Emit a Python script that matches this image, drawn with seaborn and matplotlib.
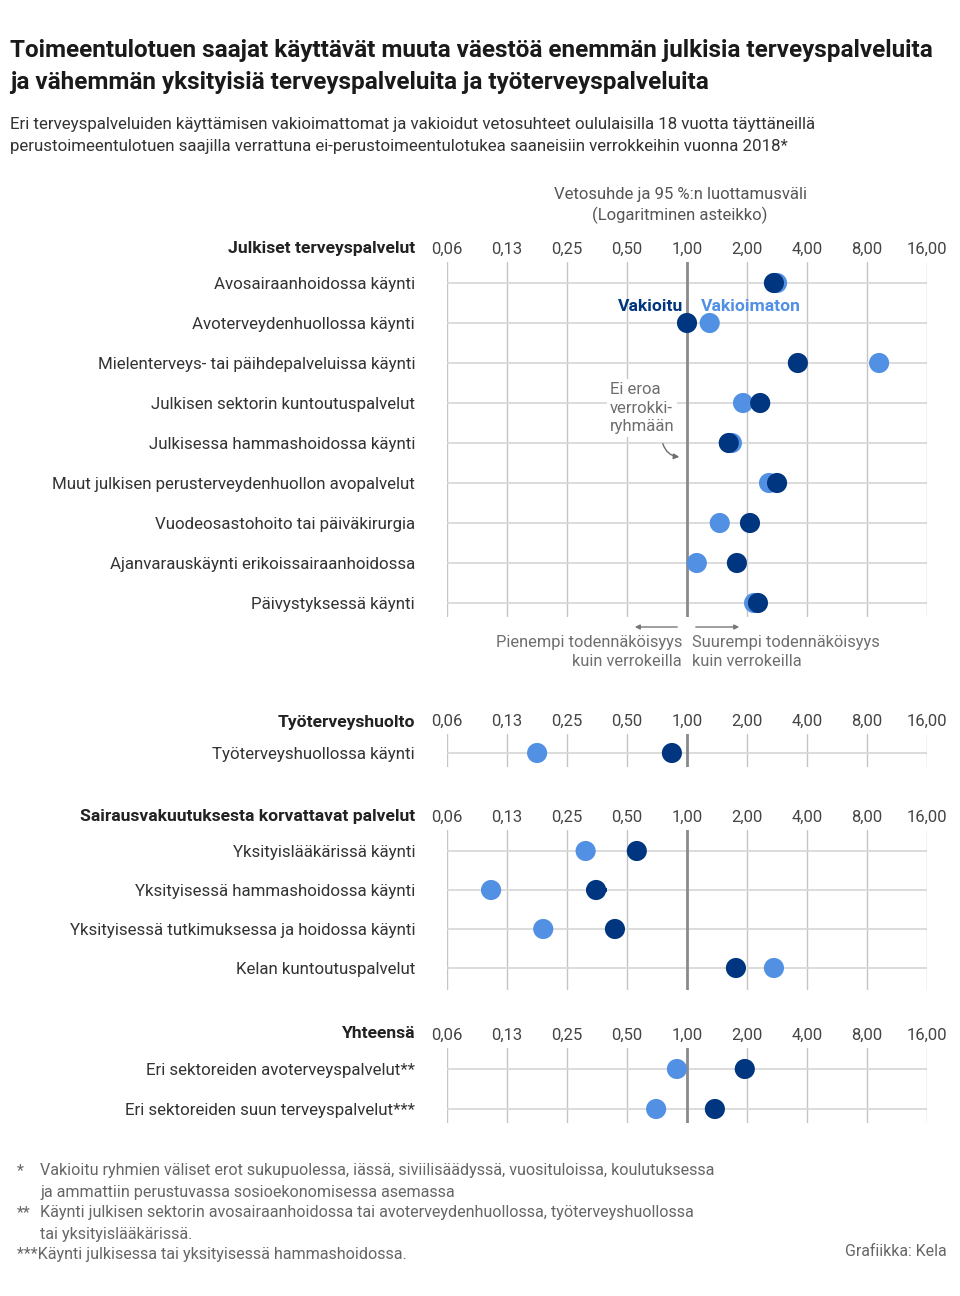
import numpy as np
import pandas as pd
import matplotlib
matplotlib.use("Agg")
import matplotlib.pyplot as plt
from matplotlib.ticker import NullLocator
import seaborn as sns

sns.set_theme(style="white")
plt.rcParams["font.family"] = ["Roboto", "DejaVu Sans"]

W, H = 960, 1296
DARK = "#00367F"
LIGHT = "#5290E3"
TXT = "#333333"
GRAY = "#6e6e6e"

# ---------------------------------------------------------------- data
tick_vals = [1/16, 1/8, 1/4, 1/2, 1, 2, 4, 8, 16]
tick_labels = ["0,06", "0,13", "0,25", "0,50", "1,00", "2,00", "4,00", "8,00", "16,00"]

pub_cats = ["Avosairaanhoidossa käynti", "Avoterveydenhuollossa käynti",
            "Mielenterveys- tai päihdepalveluissa käynti", "Julkisen sektorin kuntoutuspalvelut",
            "Julkisessa hammashoidossa käynti", "Muut julkisen perusterveydenhuollon avopalvelut",
            "Vuodeosastohoito tai päiväkirurgia", "Ajanvarauskäynti erikoissairaanhoidossa",
            "Päivystyksessä käynti"]
pub_vak = [2.73, 1.00, 3.60, 2.33, 1.62, 2.83, 2.07, 1.78, 2.27]
pub_vakm = [2.83, 1.30, 9.20, 1.91, 1.68, 2.58, 1.46, 1.12, 2.17]

tyo_cats = ["Työterveyshuollossa käynti"]
tyo_vak = [0.84]
tyo_vakm = [0.177]

sv_cats = ["Yksityislääkärissä käynti", "Yksityisessä hammashoidossa käynti",
           "Yksityisessä tutkimuksessa ja hoidossa käynti", "Kelan kuntoutuspalvelut"]
sv_vak = [0.56, 0.35, 0.435, 1.76]
sv_vakm = [0.31, 0.104, 0.19, 2.73]
# 95 % CI (only visible ones stick out of the dots)
sv_vak_lo = [0.54, 0.31, 0.42, 1.70]
sv_vak_hi = [0.58, 0.395, 0.45, 1.82]
sv_vakm_lo = [0.30, 0.093, 0.185, 2.65]
sv_vakm_hi = [0.32, 0.117, 0.195, 2.81]

tot_cats = ["Eri sektoreiden avoterveyspalvelut**", "Eri sektoreiden suun terveyspalvelut***"]
tot_vak = [1.95, 1.38]
tot_vakm = [0.89, 0.70]


def fy(py):
    return 1 - py / H


def fx(px):
    return px / W


fig = plt.figure(figsize=(W / 100, H / 100), dpi=100)

# ---------------------------------------------------------------- texts on top
fig.text(fx(10), fy(51), "Toimeentulotuen saajat käyttävät muuta väestöä enemmän julkisia terveyspalveluita",
         fontsize=17.5, fontweight="bold", color="#1a1a1a", va="center")
fig.text(fx(10), fy(83), "ja vähemmän yksityisiä terveyspalveluita ja työterveyspalveluita",
         fontsize=17.5, fontweight="bold", color="#1a1a1a", va="center")
fig.text(fx(10), fy(124), "Eri terveyspalveluiden käyttämisen vakioimattomat ja vakioidut vetosuhteet oululaisilla 18 vuotta täyttäneillä",
         fontsize=12.2, color=TXT, va="center")
fig.text(fx(10), fy(147), "perustoimeentulotuen saajilla verrattuna ei-perustoimeentulotukea saaneisiin verrokkeihin vuonna 2018*",
         fontsize=12.2, color=TXT, va="center")
fig.text(fx(680), fy(195), "Vetosuhde ja 95 %:n luottamusväli", fontsize=12, color="#555555", ha="center", va="center")
fig.text(fx(680), fy(215), "(Logaritminen asteikko)", fontsize=12, color="#555555", ha="center", va="center")


# ---------------------------------------------------------------- panels
def panel(title, cats, vak, vakm, top, bottom, first, step, head_y,
          vak_ci=None, vakm_ci=None):
    n = len(cats)
    ax = fig.add_axes([fx(447), fy(bottom), fx(927) - fx(447), (bottom - top) / H])
    df = pd.DataFrame({
        "value": list(vakm) + list(vak),
        "pos": list(range(n)) * 2,
        "series": ["Vakioimaton"] * n + ["Vakioitu"] * n,
    })
    for ci, vals, col in [(vakm_ci, vakm, LIGHT), (vak_ci, vak, DARK)]:
        if ci is not None:
            lo, hi = np.array(ci[0]), np.array(ci[1])
            v = np.array(vals)
            ax.errorbar(v, range(n), xerr=[v - lo, hi - v], fmt="none",
                        ecolor=col, elinewidth=3, capsize=0, zorder=2.5)
    sns.scatterplot(data=df, x="value", y="pos", hue="series",
                    palette={"Vakioimaton": LIGHT, "Vakioitu": DARK},
                    s=210, edgecolor="none", linewidth=0, legend=False, ax=ax, zorder=3)
    ax.axvline(1, color="#8a8a8a", lw=2, zorder=2)
    ax.set_xscale("log", base=2)
    ax.set_xlim(1 / 16, 16)
    ax.set_xticks(tick_vals)
    ax.set_xticklabels(tick_labels)
    ax.xaxis.set_minor_locator(NullLocator())
    ax.set_yticks(range(n))
    ax.set_yticklabels(cats)
    ax.set_ylim(n - 1 + (bottom - (first + (n - 1) * step)) / step, -(first - top) / step)
    ax.set_xlabel("")
    ax.set_ylabel("")
    ax.tick_params(axis="x", top=True, labeltop=True, bottom=False, labelbottom=False,
                   length=0, pad=3.5, labelsize=12, labelcolor="#444444")
    ax.tick_params(axis="y", length=0, pad=23, labelsize=12.2, labelcolor=TXT)
    ax.xaxis.grid(True, color="#c4c4c4", lw=1)
    ax.yaxis.grid(True, color="#d9d9d9", lw=1.3)
    ax.set_axisbelow(True)
    for s in ax.spines.values():
        s.set_visible(False)
    ax.patch.set_alpha(0)
    fig.text(fx(415), fy(head_y), title, fontsize=12.6, fontweight="bold", color="#222222",
             ha="right", va="center")
    return ax


ax1 = panel("Julkiset terveyspalvelut", pub_cats, pub_vak, pub_vakm, 262, 617, 283, 40, 248)
ax2 = panel("Työterveyshuolto", tyo_cats, tyo_vak, tyo_vakm, 734, 767, 753, 40, 722)
ax3 = panel("Sairausvakuutuksesta korvattavat palvelut", sv_cats, sv_vak, sv_vakm, 830, 990, 851, 39, 816,
            vak_ci=(sv_vak_lo, sv_vak_hi), vakm_ci=(sv_vakm_lo, sv_vakm_hi))
ax4 = panel("Yhteensä", tot_cats, tot_vak, tot_vakm, 1048, 1123, 1069, 40, 1034)

# ---------------------------------------------------------------- annotations in panel 1
ax1.text(0.955, 0.575, "Vakioitu", color=DARK, fontsize=12.6, fontweight="bold", ha="right", va="center")
ax1.text(1.175, 0.575, "Vakioimaton", color=LIGHT, fontsize=12.6, fontweight="bold", ha="left", va="center")
ax1.text(0.41, 3.125, "Ei eroa\nverrokki-\nryhmään", color=GRAY, fontsize=12, ha="left", va="center",
         linespacing=1.3, zorder=4,
         bbox=dict(facecolor="white", edgecolor="none", pad=2))
ax1.annotate("", xy=(0.945, 4.35), xytext=(0.75, 3.95),
             arrowprops=dict(arrowstyle="-|>", color=GRAY, lw=1, mutation_scale=8,
                             connectionstyle="arc3,rad=0.4"), zorder=4)

ax1.annotate("", xy=(0.53, 8.6), xytext=(0.922, 8.6), annotation_clip=False,
             arrowprops=dict(arrowstyle="-|>", color="#777777", lw=1, mutation_scale=7))
ax1.annotate("", xy=(1.888, 8.6), xytext=(1.072, 8.6), annotation_clip=False,
             arrowprops=dict(arrowstyle="-|>", color="#777777", lw=1, mutation_scale=7))
ax1.text(0.944, 9.22, "Pienempi todennäköisyys\nkuin verrokeilla", color=GRAY, fontsize=11.8,
         ha="right", va="center", linespacing=1.3, clip_on=False)
ax1.text(1.06, 9.22, "Suurempi todennäköisyys\nkuin verrokeilla", color=GRAY, fontsize=11.8,
         ha="left", va="center", linespacing=1.3, clip_on=False)

# ---------------------------------------------------------------- footnotes
FN = "#666666"
FS = 11.6
fig.text(fx(17), fy(1171), "*", fontsize=FS, color=FN, va="center")
fig.text(fx(40), fy(1171), "Vakioitu ryhmien väliset erot sukupuolessa, iässä, siviilisäädyssä, vuosituloissa, koulutuksessa",
         fontsize=FS, color=FN, va="center")
fig.text(fx(40), fy(1192), "ja ammattiin perustuvassa sosioekonomisessa asemassa", fontsize=FS, color=FN, va="center")
fig.text(fx(17), fy(1213), "**", fontsize=FS, color=FN, va="center")
fig.text(fx(40), fy(1213), "Käynti julkisen sektorin avosairaanhoidossa tai avoterveydenhuollossa, työterveyshuollossa",
         fontsize=FS, color=FN, va="center")
fig.text(fx(40), fy(1234), "tai yksityislääkärissä.", fontsize=FS, color=FN, va="center")
fig.text(fx(17), fy(1255), "***Käynti julkisessa tai yksityisessä hammashoidossa.", fontsize=FS, color=FN, va="center")
fig.text(fx(947), fy(1252), "Grafiikka: Kela", fontsize=11.4, color=FN, ha="right", va="center")

fig.savefig("out.png", dpi=100)
